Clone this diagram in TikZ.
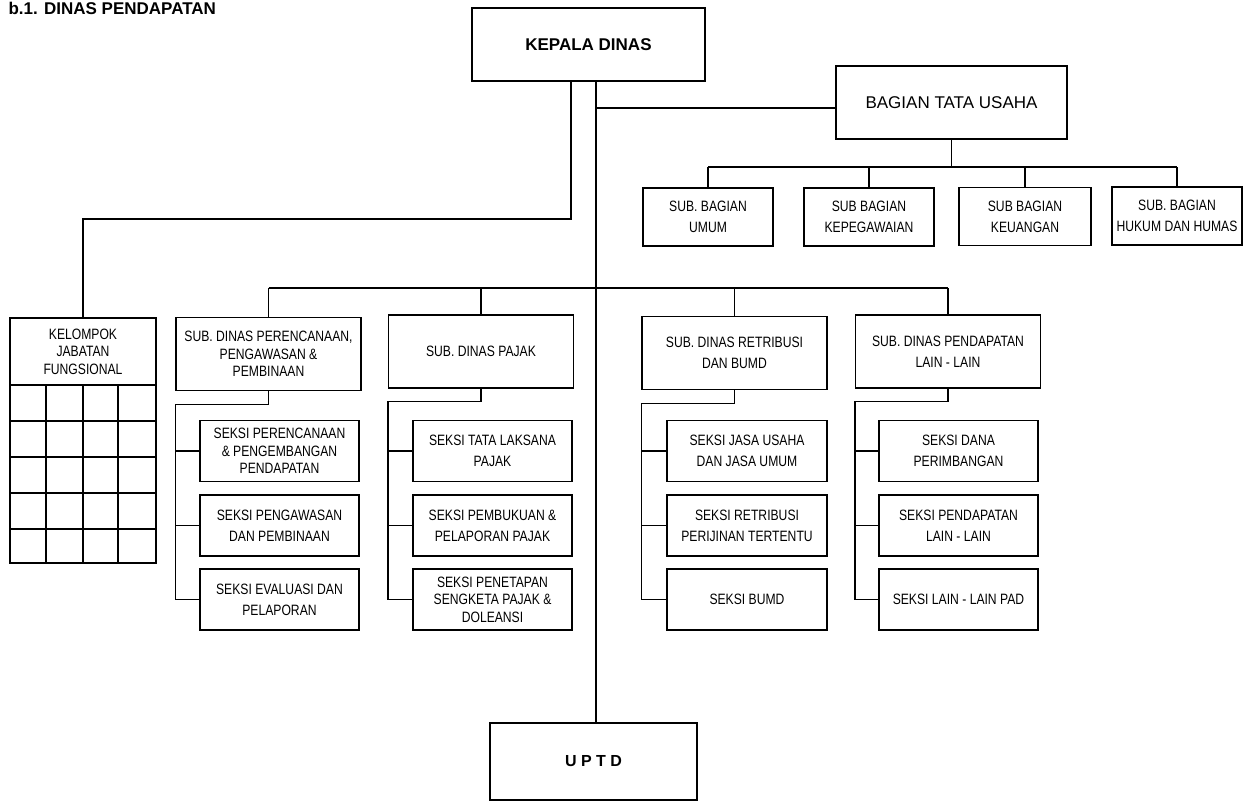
\documentclass[tikz,border=0pt]{standalone}
\usepackage{fontspec}
\setmainfont{Liberation Sans}
\newfontfamily\narrowfont[FakeStretch=0.81]{Liberation Sans}
\newcommand\boxfont{\narrowfont\fontsize{15}{21}\selectfont}
\newcommand\tightfont{\narrowfont\fontsize{15}{17.5}\selectfont}
\newcommand\headfont{\bfseries\fontsize{17}{20}\selectfont}
\usepackage{tikz}

\begin{document}
\begin{tikzpicture}[x=1pt,y=-1pt,line width=1.1pt]
\tikzstyle{every node}+=[inner sep=0pt]
\tikzstyle{box}=[draw, align=center, font=\boxfont]
\tikzstyle{subbag}=[box, minimum width=130pt, minimum height=58pt]
\tikzstyle{subdin}=[box, minimum width=185pt, minimum height=73pt]
\tikzstyle{seksi}=[box, minimum width=159pt, minimum height=61pt]
\useasboundingbox (0,0) rectangle (1251,803);
\node [anchor=base west, font=\headfont] (judul) at (8,14) {b.1. DINAS PENDAPATAN};
\node [box, minimum width=233pt, minimum height=73pt, font=\headfont] (kepala) at (588.5,44.5) {KEPALA DINAS};
\node [box, minimum width=231pt, minimum height=73pt, font=\fontsize{17}{20}\selectfont] (tu) at (951.5,102.5) {BAGIAN TATA USAHA};
\node [subbag] (umum) at (708,217) {SUB. BAGIAN\\UMUM};
\node [subbag] (kepeg) at (869,217) {SUB BAGIAN\\KEPEGAWAIAN};
\node [subbag, minimum width=132pt] (keu) at (1025,216.5) {SUB BAGIAN\\KEUANGAN};
\node [subbag] (hukum) at (1177,216) {SUB. BAGIAN\\HUKUM DAN HUMAS};
\node [box, minimum width=146pt, minimum height=67pt, font=\tightfont] (kel) at (83,351.5) {KELOMPOK\\JABATAN\\FUNGSIONAL};
\node [draw, minimum width=146pt, minimum height=178pt] (kelgrid) at (83,474) {};
\foreach \x in {46,83,118} \draw (\x,385) -- (\x,563);
\foreach \y in {421,457,493,529} \draw (10,\y) -- (156,\y);
\node [subdin, font=\tightfont] (renc) at (268.5,354) {SUB. DINAS PERENCANAAN,\\PENGAWASAN \&\\PEMBINAAN};
\node [subdin] (pajak) at (481,351.5) {SUB. DINAS PAJAK};
\node [subdin] (retri) at (734.5,353) {SUB. DINAS RETRIBUSI\\DAN BUMD};
\node [subdin] (lain) at (948,351.5) {SUB. DINAS PENDAPATAN\\LAIN - LAIN};
\node [seksi, font=\tightfont] (sr1) at (279.5,451) {SEKSI PERENCANAAN\\\& PENGEMBANGAN\\PENDAPATAN};
\node [seksi] (sr2) at (279.5,525.5) {SEKSI PENGAWASAN\\DAN PEMBINAAN};
\node [seksi] (sr3) at (279.5,599.5) {SEKSI EVALUASI DAN\\PELAPORAN};
\node [seksi] (sj1) at (492.5,451) {SEKSI TATA LAKSANA\\PAJAK};
\node [seksi] (sj2) at (492.5,525.5) {SEKSI PEMBUKUAN \&\\PELAPORAN PAJAK};
\node [seksi, font=\tightfont] (sj3) at (492.5,599.5) {SEKSI PENETAPAN\\SENGKETA PAJAK \&\\DOLEANSI};
\node [seksi, minimum width=160pt] (st1) at (747,451) {SEKSI JASA USAHA\\DAN JASA UMUM};
\node [seksi, minimum width=160pt] (st2) at (747,525.5) {SEKSI RETRIBUSI\\PERIJINAN TERTENTU};
\node [seksi, minimum width=160pt] (st3) at (747,599.5) {SEKSI BUMD};
\node [seksi] (sl1) at (958.5,451) {SEKSI DANA\\PERIMBANGAN};
\node [seksi] (sl2) at (958.5,525.5) {SEKSI PENDAPATAN\\LAIN - LAIN};
\node [seksi] (sl3) at (958.5,599.5) {SEKSI LAIN - LAIN PAD};
\node [box, minimum width=207pt, minimum height=77pt, font=\bfseries\fontsize{16}{20}\selectfont] (uptd) at (593.5,761.5) {U P T D};
\coordinate (kj) at (571,219);
\draw (kepala.south -| kj) -- (kj) -| (kel.north);
\coordinate (tengah) at (596,108);
\draw (kepala.south -| tengah) -- (uptd.north -| tengah);
\draw (tengah) -- (tengah -| tu.west);
\coordinate (tub) at (951.5,167);
\draw (tu.south) -- (tub);
\draw (umum.north |- tub) -- (hukum.north |- tub);
\foreach \n in {umum,kepeg,keu,hukum} \draw (\n.north |- tub) -- (\n.north);
\coordinate (sdb) at (596,288);
\draw (renc.north |- sdb) -- (lain.north |- sdb);
\foreach \n in {renc,pajak,retri,lain} \draw (\n.north |- sdb) -- (\n.north);
\foreach \n/\a/\b/\c in {renc/sr1/sr2/sr3, pajak/sj1/sj2/sj3, retri/st1/st2/st3, lain/sl1/sl2/sl3} {
\draw (\n.south) -- ++(0,13) -| (\n.west |- \c.west);
\foreach \s in {\a,\b,\c} \draw (\n.west |- \s.west) -- (\s.west);
}
\end{tikzpicture}
\end{document}
